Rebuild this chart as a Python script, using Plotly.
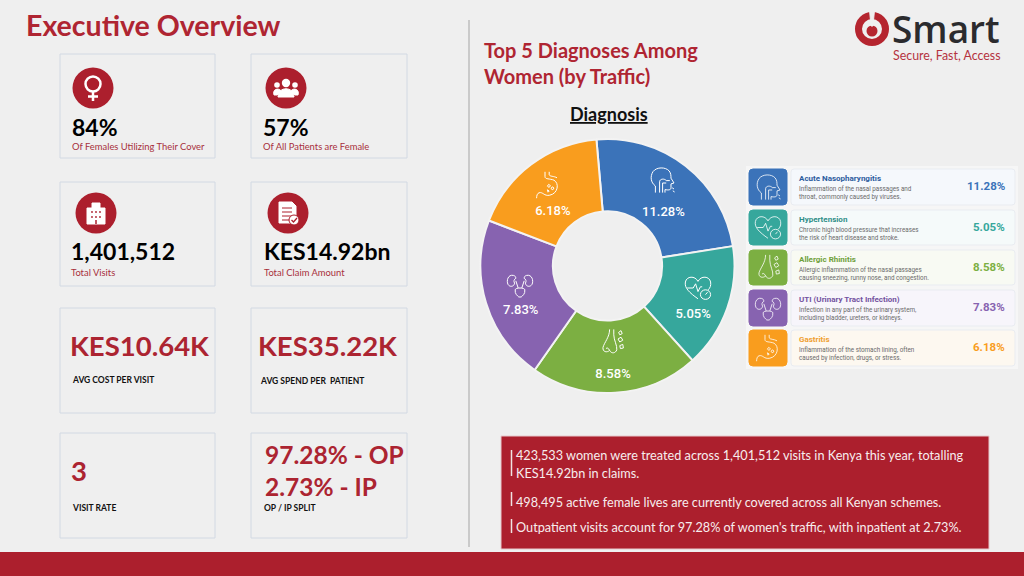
import re
import plotly.graph_objects as go

W, H = 1024, 576
RED = "#AC1F2D"
BG = "#EFEFEF"

# diagnosis data
diagnoses = ["Acute Nasopharyngitis", "Hypertension", "Allergic Rhinitis",
             "UTI (Urinary Tract Infection)", "Gastritis"]
diagnosis_pct = [11.28, 5.05, 8.58, 7.83, 6.18]
# the slices in the picture are not drawn in proportion to their labels,
# so this is the size each one visibly takes up (degrees of the ring)
slice_sizes = [86, 57, 77, 76, 64]
slice_colors = ["#3B73B9", "#36A79C", "#7CAF42", "#8763B0", "#F99D1E"]
title_colors = ["#2D5C9E", "#2E8E88", "#6FA03A", "#7352A0", "#F0A030"]
row_tints = ["#F5F8FC", "#F5FAFA", "#F8FAF3", "#F7F5FB", "#FDF8F0"]
descriptions = [
    "Inflammation of the nasal passages and<br>throat, commonly caused by viruses.",
    "Chronic high blood pressure that increases<br>the risk of heart disease and stroke.",
    "Allergic inflammation of the nasal passages<br>causing sneezing, runny nose, and congestion.",
    "Infection in any part of the urinary system,<br>including bladder, ureters, or kidneys.",
    "Inflammation of the stomach lining, often<br>caused by infection, drugs, or stress.",
]

# kpi cards
top_values = ["84%", "57%", "1,401,512", "KES14.92bn"]
top_labels = ["Of Females Utilizing Their Cover", "Of All Patients are Female",
              "Total Visits", "Total Claim Amount"]
lower_values = ["KES10.64K", "KES35.22K", "3", "97.28% - OP<br>2.73% - IP"]
lower_labels = ["AVG COST PER VISIT", "AVG SPEND PER  PATIENT", "VISIT RATE", "OP / IP SPLIT"]

summary_lines = [
    "423,533 women were treated across 1,401,512 visits in Kenya this year, totalling",
    "KES14.92bn in claims.",
    "498,495 active female lives are currently covered across all Kenyan schemes.",
    "Outpatient visits account for 97.28% of women's traffic, with inpatient at 2.73%.",
]

# line icons, drawn in a 100x100 box
ICONS = {
    "head": ["M28 92 L28 70 C12 58 10 38 20 22 C32 6 62 6 74 20 C80 28 80 36 80 44 L90 60 L80 63 L80 76 C80 84 70 84 60 82 L60 92",
             "M42 92 L42 56 C42 46 58 44 64 52 L76 52", "M52 92 L52 60 L64 60", "M84 76 L90 80 M86 86 L92 90"],
    "heart": ["M50 86 C22 66 4 50 8 30 C12 10 40 8 50 28 C60 8 88 10 92 30 C94 42 90 50 84 56",
              "M14 50 L34 50 L42 36 L50 62 L58 46 L64 46",
              "M75 56 C84 56 92 63 92 72 C92 81 84 88 75 88 C66 88 58 81 58 72 C58 63 66 56 75 56 M75 72 L82 64"],
    "nose": ["M42 8 C42 34 24 52 20 68 C18 84 34 86 42 78 C48 90 62 88 66 76 C68 62 56 44 56 26 L56 8",
             "M30 72 C34 68 38 70 42 78", "M72 18 L80 12 L84 22 L76 26 Z M70 40 L80 34 L86 44 L76 50 Z M76 62 L86 58 L88 70 L78 72 Z"],
    "kidney": ["M28 18 C10 14 4 36 10 48 C16 58 30 56 32 44 C28 38 30 30 36 28 C36 22 34 20 28 18 Z",
               "M72 18 C90 14 96 36 90 48 C84 58 70 56 68 44 C72 38 70 30 64 28 C64 22 66 20 72 18 Z",
               "M36 36 L44 60 M64 36 L56 60",
               "M34 66 C34 58 66 58 66 66 C68 80 58 86 54 90 L46 90 C42 86 32 80 34 66 Z"],
    "stomach": ["M40 6 L40 22 C40 32 56 28 70 34 C88 44 84 78 56 84 C36 88 34 72 20 76 C14 78 12 86 12 94",
                "M54 6 L54 16 C56 22 70 20 80 26",
                "M52 48 L58 52 L54 58 L48 54 Z M64 56 L70 60 L66 66 L60 62 Z M48 66 L54 70 L50 74 Z"],
}


def px(x):
    return x / W


def py(y):
    return 1 - y / H


def rect(x0, y0, x1, y1, fill="rgba(0,0,0,0)", line=None, width=1):
    return dict(type="rect", xref="paper", yref="paper", x0=px(x0), x1=px(x1), y0=py(y0), y1=py(y1),
                fillcolor=fill, line=dict(color=line or "rgba(0,0,0,0)", width=width), layer="below")


def round_rect(x0, y0, x1, y1, r, fill, line=None):
    d = (f"M{px(x0 + r)} {py(y0)} L{px(x1 - r)} {py(y0)} Q{px(x1)} {py(y0)} {px(x1)} {py(y0 + r)} "
         f"L{px(x1)} {py(y1 - r)} Q{px(x1)} {py(y1)} {px(x1 - r)} {py(y1)} "
         f"L{px(x0 + r)} {py(y1)} Q{px(x0)} {py(y1)} {px(x0)} {py(y1 - r)} "
         f"L{px(x0)} {py(y0 + r)} Q{px(x0)} {py(y0)} {px(x0 + r)} {py(y0)} Z")
    return dict(type="path", path=d, xref="paper", yref="paper", fillcolor=fill,
                line=dict(color=line or fill, width=1), layer="below")


def circle(cx, cy, r, fill="rgba(0,0,0,0)", line=None, width=1, layer="above"):
    return dict(type="circle", xref="paper", yref="paper", x0=px(cx - r), x1=px(cx + r),
                y0=py(cy + r), y1=py(cy - r), fillcolor=fill,
                line=dict(color=line or "rgba(0,0,0,0)", width=width), layer=layer)


def path(points, fill="rgba(0,0,0,0)", line="#FFFFFF", width=1):
    return dict(type="path", path=points, xref="paper", yref="paper", fillcolor=fill,
                line=dict(color=line, width=width), layer="above")


def icon_shapes(name, cx, cy, size, width=1.0):
    out = []
    for d in ICONS[name]:
        nums = iter(range(10000))

        def fix(m):
            v = float(m.group())
            if next(nums) % 2 == 0:
                return f"{px(cx + (v - 50) * size / 100):.5f}"
            return f"{py(cy + (v - 50) * size / 100):.5f}"

        out.append(path(re.sub(r"\d+\.?\d*", fix, d), width=width))
    return out


def text(x, y, s, size, color="#000000", bold=False, anchor="left", family="Lato", weight=None):
    if bold:
        s = "<b>" + s.replace("<br>", "</b><br><b>") + "</b>"
    font = dict(size=size, color=color, family=family)
    if weight:
        font["weight"] = weight
    return dict(text=s, x=px(x), y=py(y), xref="paper", yref="paper", showarrow=False,
                xanchor=anchor, yanchor="middle", align=anchor, font=font,
                borderpad=0, borderwidth=0)


shapes = []
annotations = []

# kpi cards
card_x = [(60, 215), (251, 407)]
card_y = [(54, 158), (182, 286), (308, 413), (433, 538)]
for row in card_y:
    for col in card_x:
        shapes.append(rect(col[0], row[0], col[1], row[1], line="#D2D9E3", width=1))

top_pos = [(72, 127, 146), (263, 127, 146), (71, 251, 272), (264, 251, 272)]
for (x, y, y2), v, lab in zip(top_pos, top_values, top_labels):
    annotations.append(text(x, y, v, 23, "#000000", True))
    annotations.append(text(x, y2, lab, 9.4, "#A8303C"))

lower_pos = [(70, 345, 72, 380), (258, 345, 260, 381), (71, 470, 72, 508)]
for (x, y, x2, y2), v, lab in zip(lower_pos, lower_values[:3], lower_labels[:3]):
    annotations.append(text(x, y, v, 27.5, "#AC2431", True))
    annotations.append(text(x2, y2, lab, 8.5, "#111111", True))
annotations.append(text(265, 470, lower_values[3], 24.5, "#AC2431", True))
annotations.append(text(264, 508, lower_labels[3], 8.5, "#111111", True))

# red round kpi icons
icon_centres = [(93, 88), (286, 88), (96, 213), (288, 213)]
for cx, cy in icon_centres:
    shapes.append(circle(cx, cy, 20.5, fill=RED))

# female symbol
shapes.append(circle(93, 84, 7.5, line="#FFFFFF", width=2.5))
shapes.append(path(f"M{px(93)} {py(92)} L{px(93)} {py(101)} M{px(88)} {py(96.5)} L{px(98)} {py(96.5)}", width=2.5))
# group of people
for cx, cy, r in [(286, 83, 4.2), (277, 85, 2.8), (295, 85, 2.8)]:
    shapes.append(circle(cx, cy, r, fill="#FFFFFF"))
shapes.append(path(f"M{px(278)} {py(97)} C{px(278)} {py(86)} {px(294)} {py(86)} {px(294)} {py(97)} Z", fill="#FFFFFF"))
shapes.append(path(f"M{px(274)} {py(95)} C{px(272)} {py(88)} {px(280)} {py(88)} {px(281)} {py(91)} L{px(277)} {py(95)} Z", fill="#FFFFFF"))
shapes.append(path(f"M{px(298)} {py(95)} C{px(300)} {py(88)} {px(292)} {py(88)} {px(291)} {py(91)} L{px(295)} {py(95)} Z", fill="#FFFFFF"))
# building
shapes.append(path(f"M{px(87)} {py(224)} L{px(87)} {py(208)} L{px(92)} {py(208)} L{px(92)} {py(203)} L{px(100)} {py(203)} L{px(100)} {py(208)} L{px(105)} {py(208)} L{px(105)} {py(224)} Z", fill="#FFFFFF"))
for cx, cy in [(92, 212), (96, 212), (100, 212), (92, 217), (100, 217), (96, 217)]:
    shapes.append(circle(cx, cy, 0.9, fill=RED))
shapes.append(path(f"M{px(96)} {py(220)} L{px(96)} {py(224)}", line=RED, width=1.5))
# document with tick
shapes.append(path(f"M{px(279)} {py(202)} L{px(292)} {py(202)} L{px(296)} {py(206)} L{px(296)} {py(223)} L{px(279)} {py(223)} Z", fill="#FFFFFF"))
for ly in [208, 212, 216, 220]:
    shapes.append(path(f"M{px(282)} {py(ly)} L{px(292)} {py(ly)}", line=RED, width=1))
shapes.append(circle(294, 220, 5, fill="#FFFFFF", line=RED, width=1))
shapes.append(path(f"M{px(291.5)} {py(220)} L{px(293.5)} {py(222)} L{px(297)} {py(218)}", line=RED, width=1.3))

# divider and bottom bar
shapes.append(dict(type="line", xref="paper", yref="paper", x0=px(469), x1=px(469), y0=py(20), y1=py(547),
                   line=dict(color="#A5A5A5", width=1), layer="below"))
shapes.append(rect(0, 552, W, H, fill=RED))

# header
annotations.append(text(26, 25, "Executive Overview", 28.5, "#AF2532", True))
annotations.append(text(484, 63, "Top 5 Diagnoses Among<br>Women (by Traffic)", 20, "#AF2532", True))
annotations.append(text(609, 114, "<u>Diagnosis</u>", 18, "#111111", True, anchor="center"))

# logo
shapes.append(circle(872, 29, 13.5, line="#B5252F", width=7))
shapes.append(circle(872, 31, 5.5, fill="#B5252F"))
shapes.append(path(f"M{px(869.5)} {py(10)} L{px(874.5)} {py(10)} L{px(873)} {py(26)} L{px(871)} {py(26)} Z", fill=BG, line=BG))
annotations.append(text(892, 28, "Smart", 37, "#2B2B2E", family="Open Sans", weight=600))
annotations.append(text(893, 55, "Secure, Fast, Access", 12.4, "#B5333F"))

# ring icons, sit just above the slice labels
ring_icons = [("head", 662, 180), ("heart", 698, 288), ("nose", 612, 342), ("kidney", 520, 285), ("stomach", 548, 185)]
for name, cx, cy in ring_icons:
    shapes += icon_shapes(name, cx, cy, 30, width=1)

# diagnosis legend
row_y = [(169, 205), (210, 245), (250, 285), (290, 326), (330, 366)]
shapes.append(rect(746, 166, 1018, 369, fill="rgba(255,255,255,0.45)"))
tile_icons = ["head", "heart", "nose", "kidney", "stomach"]
for i, (y0, y1) in enumerate(row_y):
    shapes.append(round_rect(749, y0, 787, y1, 4, slice_colors[i]))
    shapes.append(round_rect(791, y0, 1015, y1, 3, row_tints[i], line="#E9ECF1"))
    shapes += icon_shapes(tile_icons[i], 768, (y0 + y1) / 2, 30, width=0.8)
    annotations.append(text(799, y0 + 9.5, diagnoses[i], 8, title_colors[i], True, family="Roboto"))
    annotations.append(text(799, y0 + 24, descriptions[i], 6.3, "#6A6A6A", family="Roboto"))
    annotations.append(text(1005, y0 + 17, f"{diagnosis_pct[i]:.2f}%", 11.5, slice_colors[i], True, anchor="right", family="Roboto"))

# summary panel
shapes.append(rect(501, 436, 989, 549, fill=RED, line="#E6C9CC"))
bars = [(450, 476), (492, 506), (519, 533)]
for y0, y1 in bars:
    shapes.append(dict(type="line", xref="paper", yref="paper", x0=px(511.5), x1=px(511.5), y0=py(y0), y1=py(y1),
                       line=dict(color="#F1E3E3", width=1.5), layer="above"))
text_y = [455, 473, 502, 527]
for y, s in zip(text_y, summary_lines):
    annotations.append(text(516, y, s, 12.7, "#F7EDED"))

fig = go.Figure(go.Pie(
    labels=diagnoses,
    values=slice_sizes,
    text=[f"&nbsp;<br>&nbsp;<br>{v:.2f}%" for v in diagnosis_pct],
    textinfo="text",
    textposition="inside",
    insidetextorientation="horizontal",
    textfont=dict(family="Roboto", size=13, color="#FFFFFF", weight=500),
    hole=0.43,
    sort=False,
    direction="clockwise",
    rotation=-5,
    marker=dict(colors=slice_colors, line=dict(color="#F3F3F3", width=2)),
    domain=dict(x=[px(480), px(735)], y=[py(393), py(139)]),
    hoverinfo="label+text",
    showlegend=False,
))

fig.update_layout(
    width=W, height=H,
    margin=dict(l=0, r=0, t=0, b=0),
    paper_bgcolor=BG,
    plot_bgcolor=BG,
    showlegend=False,
    shapes=shapes,
    annotations=annotations,
)

fig.write_html("out.html", config=dict(displayModeBar=False), post_script="document.body.style.margin='0';")
